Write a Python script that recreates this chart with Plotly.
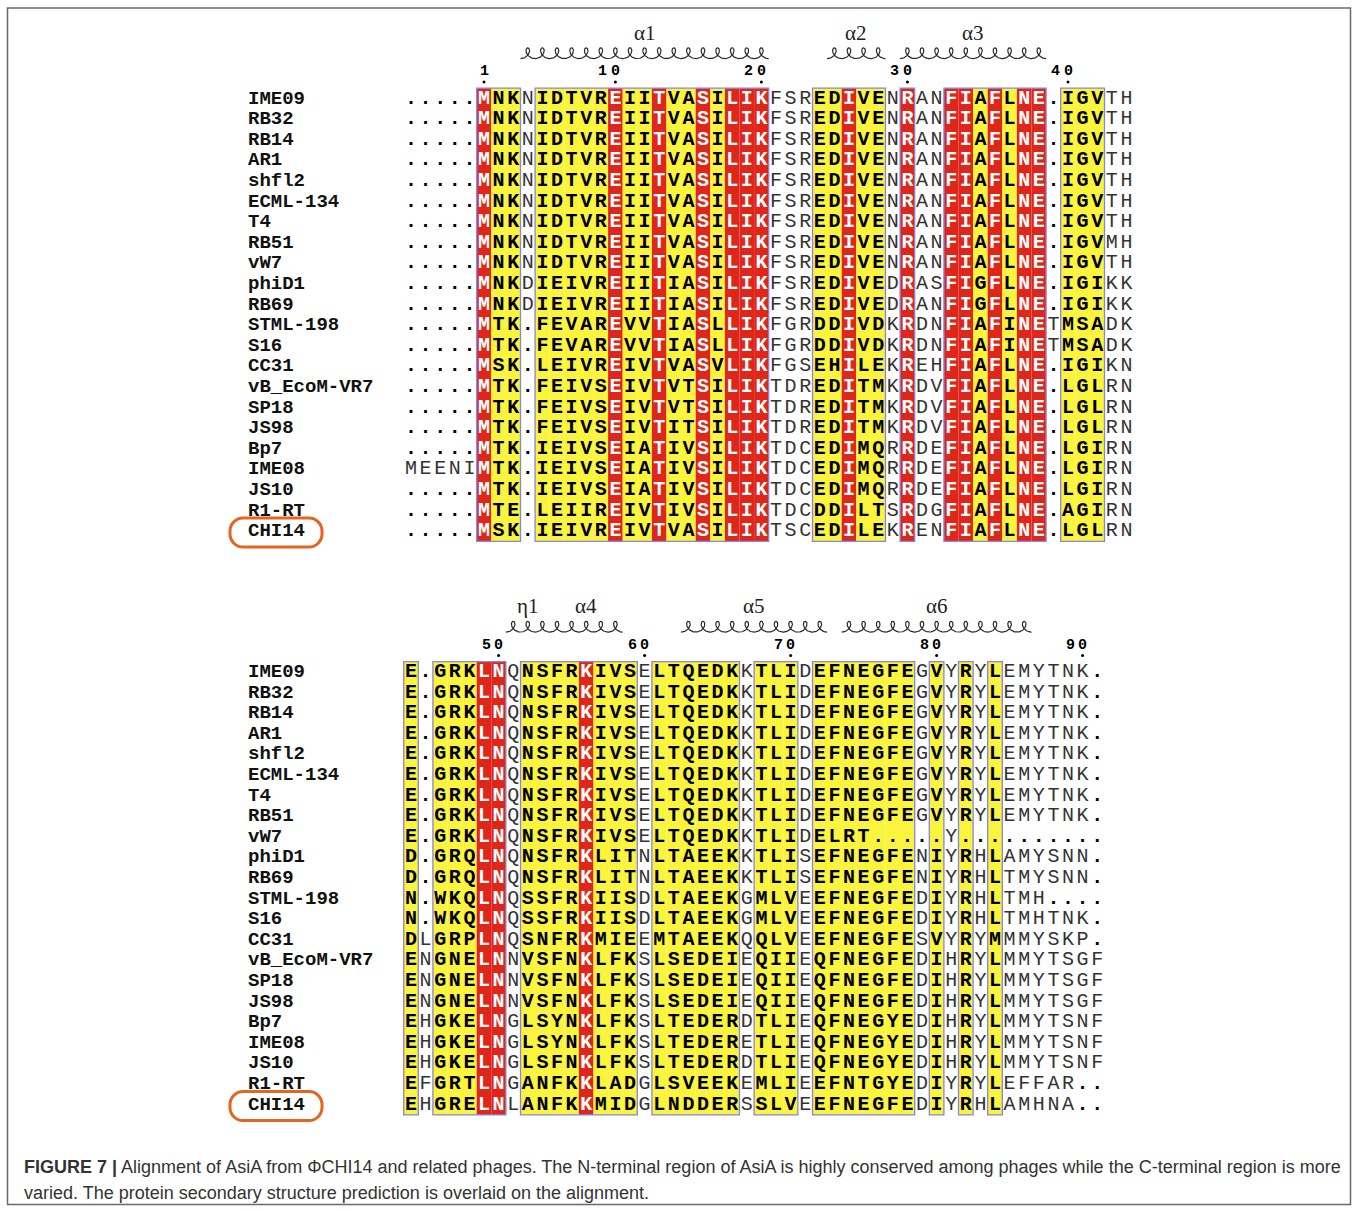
import numpy as np
import plotly.graph_objects as go

# ---------------------------------------------------------------- data ----
NAMES = ["IME09", "RB32", "RB14", "AR1", "shfl2", "ECML-134", "T4", "RB51",
         "vW7", "phiD1", "RB69", "STML-198", "S16", "CC31", "vB_EcoM-VR7",
         "SP18", "JS98", "Bp7", "IME08", "JS10", "R1-RT", "CHI14"]

# N-terminal half of the alignment (50 columns)
SEQ_N = [
    ".....MNKNIDTVREIITVASILIKFSREDIVENRANFIAFLNE.IGVTH",
    ".....MNKNIDTVREIITVASILIKFSREDIVENRANFIAFLNE.IGVTH",
    ".....MNKNIDTVREIITVASILIKFSREDIVENRANFIAFLNE.IGVTH",
    ".....MNKNIDTVREIITVASILIKFSREDIVENRANFIAFLNE.IGVTH",
    ".....MNKNIDTVREIITVASILIKFSREDIVENRANFIAFLNE.IGVTH",
    ".....MNKNIDTVREIITVASILIKFSREDIVENRANFIAFLNE.IGVTH",
    ".....MNKNIDTVREIITVASILIKFSREDIVENRANFIAFLNE.IGVTH",
    ".....MNKNIDTVREIITVASILIKFSREDIVENRANFIAFLNE.IGVMH",
    ".....MNKNIDTVREIITVASILIKFSREDIVENRANFIAFLNE.IGVTH",
    ".....MNKDIEIVREIITIASILIKFSREDIVEDRASFIGFLNE.IGIKK",
    ".....MNKDIEIVREIITIASILIKFSREDIVEDRANFIGFLNE.IGIKK",
    ".....MTK.FEVAREVVTIASLLIKFGRDDIVDKRDNFIAFINETMSADK",
    ".....MTK.FEVAREVVTIASLLIKFGRDDIVDKRDNFIAFINETMSADK",
    ".....MSK.LEIVREIVTVASVLIKFGSEHILEKREHFIAFLNE.IGIKN",
    ".....MTK.FEIVSEIVTVTSILIKTDREDITMKRDVFIAFLNE.LGLRN",
    ".....MTK.FEIVSEIVTVTSILIKTDREDITMKRDVFIAFLNE.LGLRN",
    ".....MTK.FEIVSEIVTITSILIKTDREDITMKRDVFIAFLNE.LGLRN",
    ".....MTK.IEIVSEIATIVSILIKTDCEDIMQRRDEFIAFLNE.LGIRN",
    "MEENIMTK.IEIVSEIATIVSILIKTDCEDIMQRRDEFIAFLNE.LGIRN",
    ".....MTK.IEIVSEIATIVSILIKTDCEDIMQRRDEFIAFLNE.LGIRN",
    ".....MTE.LEIIREIVTIVSILIKTDCDDILTSRDGFIAFLNE.AGIRN",
    ".....MSK.IEIVREIVTVASILIKTSCEDILEKRENFIAFLNE.LGLRN",
]

# C-terminal half of the alignment (48 columns)
SEQ_C = [
    "E.GRKLNQNSFRKIVSELTQEDKKTLIDEFNEGFEGVYRYLEMYTNK.",
    "E.GRKLNQNSFRKIVSELTQEDKKTLIDEFNEGFEGVYRYLEMYTNK.",
    "E.GRKLNQNSFRKIVSELTQEDKKTLIDEFNEGFEGVYRYLEMYTNK.",
    "E.GRKLNQNSFRKIVSELTQEDKKTLIDEFNEGFEGVYRYLEMYTNK.",
    "E.GRKLNQNSFRKIVSELTQEDKKTLIDEFNEGFEGVYRYLEMYTNK.",
    "E.GRKLNQNSFRKIVSELTQEDKKTLIDEFNEGFEGVYRYLEMYTNK.",
    "E.GRKLNQNSFRKIVSELTQEDKKTLIDEFNEGFEGVYRYLEMYTNK.",
    "E.GRKLNQNSFRKIVSELTQEDKKTLIDEFNEGFEGVYRYLEMYTNK.",
    "E.GRKLNQNSFRKIVSELTQEDKKTLIDELRT.....Y..........",
    "D.GRQLNQNSFRKLITNLTAEEKKTLISEFNEGFENIYRHLAMYSNN.",
    "D.GRQLNQNSFRKLITNLTAEEKKTLISEFNEGFENIYRHLTMYSNN.",
    "N.WKQLNQSSFRKIISDLTAEEKGMLVEEFNEGFEDIYRHLTMH....",
    "N.WKQLNQSSFRKIISDLTAEEKGMLVEEFNEGFEDIYRHLTMHTNK.",
    "DLGRPLNQSNFRKMIEEMTAEEKQQLVEEFNEGFESVYRYMMMYSKP.",
    "ENGNELNNVSFNKLFKSLSEDEIEQIIEQFNEGFEDIHRYLMMYTSGF",
    "ENGNELNNVSFNKLFKSLSEDEIEQIIEQFNEGFEDIHRYLMMYTSGF",
    "ENGNELNNVSFNKLFKSLSEDEIEQIIEQFNEGFEDIHRYLMMYTSGF",
    "EHGKELNGLSYNKLFKSLTEDERDTLIEQFNEGYEDIHRYLMMYTSNF",
    "EHGKELNGLSYNKLFKSLTEDERETLIEQFNEGYEDIHRYLMMYTSNF",
    "EHGKELNGLSFNKLFKSLTEDERDTLIEQFNEGYEDIHRYLMMYTSNF",
    "EFGRTLNGANFKKLADGLSVEEKEMLIEEFNTGYEDIYRYLEFFAR..",
    "EHGRELNLANFKKMIDGLNDDERSSLVEEFNEGFEDIYRHLAMHNA..",
]

# column conservation: r = strictly identical, y = similar, . = none
CONS_N = ".....ryy.yyyyyryyryyryrrr...yyryy.r..rryryrr.yyy.."
CONS_C = "y.yyyrr.yyyyryyy.yyyyyy.yyy.yyyyyyy.y.y.y......."

# predicted secondary structure (label, first column, last column)
SS_N = [("α1", 8, 24), ("α2", 29, 32), ("α3", 34, 43)]
SS_C = [("η1", 7, 9), ("α4", 10, 14), ("α5", 19, 28), ("α6", 30, 42)]

HIGHLIGHT = "CHI14"

CAPTION_1 = ("<b>FIGURE 7 |</b> Alignment of AsiA from ΦCHI14 and related phages. "
             "The N-terminal region of AsiA is highly conserved among phages while "
             "the C-terminal region is more")
CAPTION_2 = ("varied. The protein secondary structure prediction is overlaid on "
             "the alignment.")

# -------------------------------------------------------------- layout ----
W, H = 1358, 1211
COL_W = 14.6          # px per alignment column
ROW_H = 20.6          # px per sequence row
X0_PX = 403.7         # left edge of column 0
Y0_PX = 98.5          # centre of the first row of the first block
BLOCK2_ROW = (672.0 - Y0_PX) / ROW_H
NAME_X = (246 - X0_PX) / COL_W - 0.5

RED = "#e0261a"
YEL = "#faf43c"
BOX = "#8585e6"
MONO = "Liberation Mono, Courier New, monospace"
SERIF = "Liberation Serif, Times New Roman, serif"

fig = go.Figure()
shapes = []
annotations = []

n_rows = len(NAMES)
for seqs, cons in ((SEQ_N, CONS_N), (SEQ_C, CONS_C)):
    assert all(len(s) == len(cons) for s in seqs)

# residue numbering follows the first sequence (gaps are not counted)
ref = SEQ_N[0] + SEQ_C[0]
numbers = []
count = 0
for ch in ref:
    if ch != ".":
        count += 1
        numbers.append(count if (count == 1 or count % 10 == 0) else None)
    else:
        numbers.append(None)
num_blocks = [numbers[:len(CONS_N)], numbers[len(CONS_N):]]

blocks = [(SEQ_N, CONS_N, SS_N, 0.0, num_blocks[0]),
          (SEQ_C, CONS_C, SS_C, BLOCK2_ROW, num_blocks[1])]

styles = {
    "red": dict(color="white", weight="bold"),
    "yel": dict(color="black", weight="bold"),
    "gap": dict(color="black", weight="bold"),
    "var": dict(color="#333333", weight="normal"),
}
pts = {k: ([], [], []) for k in styles}

for seqs, cons, ss, off, nums in blocks:
    top, bot = off - 0.5, off + n_rows - 0.5
    # column backgrounds
    for c, cl in enumerate(cons):
        if cl in "ry":
            shapes.append(dict(type="rect", xref="x", yref="y", layer="below",
                               x0=c - 0.5, x1=c + 0.5, y0=top, y1=bot,
                               fillcolor=RED if cl == "r" else YEL,
                               line=dict(width=0)))
    # outline around each run of conserved columns
    c = 0
    while c < len(cons):
        if cons[c] in "ry":
            s = c
            while c + 1 < len(cons) and cons[c + 1] in "ry":
                c += 1
            shapes.append(dict(type="rect", xref="x", yref="y", layer="below",
                               x0=s - 0.5, x1=c + 0.5, y0=top, y1=bot,
                               line=dict(color=BOX, width=1.3)))
        c += 1
    # residues
    for r, seq in enumerate(seqs):
        for c, ch in enumerate(seq):
            cl = cons[c]
            if ch == ".":
                key = "gap"
            elif cl == "r":
                key = "red"
            elif cl == "y":
                key = "yel"
            else:
                key = "var"
            pts[key][0].append(c)
            pts[key][1].append(r + off)
            pts[key][2].append(ch)
    # sequence names
    for r, name in enumerate(NAMES):
        annotations.append(dict(x=NAME_X, y=r + off, xref="x", yref="y",
                                text=name, showarrow=False, xanchor="left",
                                yanchor="middle",
                                font=dict(family=MONO, size=19, color="#111",
                                          weight="bold")))
    # residue numbers with a dot beneath
    dx, dy = [], []
    for c, n in enumerate(nums):
        if n is None:
            continue
        digits = str(n)
        for k, d in enumerate(reversed(digits)):
            annotations.append(dict(x=c - 0.86 * k, y=off - 1.3, xref="x",
                                    yref="y", text=d, showarrow=False,
                                    xanchor="center", yanchor="middle",
                                    font=dict(family=MONO, size=15,
                                              color="black", weight="bold")))
        dx.append(c)
        dy.append(off - 0.8)
    fig.add_trace(go.Scatter(x=dx, y=dy, mode="markers", hoverinfo="skip",
                             marker=dict(size=3, color="black"),
                             showlegend=False))
    # secondary structure: helix coils and labels
    for label, a, b in ss:
        loops = b - a + 1
        theta = np.linspace(-np.pi, 2 * np.pi * loops - np.pi, 60 * loops)
        rad = COL_W / (2 * np.pi)
        xpx = rad * (theta + np.pi) - 4.9 * np.sin(theta)
        ypx = 5.4 * np.cos(theta)
        fig.add_trace(go.Scatter(x=(a - 0.5) + xpx / COL_W,
                                 y=(off - 2.2) - ypx / ROW_H,
                                 mode="lines", hoverinfo="skip",
                                 line=dict(color="#2a2a2a", width=1.2),
                                 showlegend=False))
        annotations.append(dict(x=(a + b) / 2, y=off - 3.2, xref="x", yref="y",
                                text=label, showarrow=False, xanchor="center",
                                yanchor="middle",
                                font=dict(family=SERIF, size=21, color="#222")))
    # highlight ring around the phage of interest
    hr = NAMES.index(HIGHLIGHT) + off + 1.5 / ROW_H
    xl = NAME_X - 16 / COL_W
    xr = NAME_X + 76 / COL_W
    yt = hr - 14.5 / ROW_H
    yb = hr + 14.5 / ROW_H
    rx, ry, k = 13 / COL_W, 13 / ROW_H, 0.5523
    path = (f"M {xl+rx},{yt} L {xr-rx},{yt} "
            f"C {xr-rx+k*rx},{yt} {xr},{yt+ry-k*ry} {xr},{yt+ry} "
            f"L {xr},{yb-ry} "
            f"C {xr},{yb-ry+k*ry} {xr-rx+k*rx},{yb} {xr-rx},{yb} "
            f"L {xl+rx},{yb} "
            f"C {xl+rx-k*rx},{yb} {xl},{yb-ry+k*ry} {xl},{yb-ry} "
            f"L {xl},{yt+ry} "
            f"C {xl},{yt+ry-k*ry} {xl+rx-k*rx},{yt} {xl+rx},{yt} Z")
    shapes.append(dict(type="path", xref="x", yref="y", path=path,
                       line=dict(color="#e2661f", width=3)))

for key, (xs, ys, ts) in pts.items():
    st = styles[key]
    fig.add_trace(go.Scatter(x=xs, y=ys, text=ts, mode="text",
                             textposition="middle center", hoverinfo="skip",
                             textfont=dict(family=MONO, size=20,
                                           color=st["color"],
                                           weight=st["weight"]),
                             showlegend=False))

# figure frame and caption
shapes.append(dict(type="rect", xref="paper", yref="paper",
                   x0=7.5 / W, x1=1350.5 / W, y0=1 - 1204.5 / H, y1=1 - 8 / H,
                   line=dict(color="#6a6a6a", width=1.5)))
for text, py in ((CAPTION_1, 1167), (CAPTION_2, 1193)):
    annotations.append(dict(x=22 / W, y=1 - py / H, xref="paper", yref="paper",
                            text=text, showarrow=False, xanchor="left",
                            yanchor="middle",
                            font=dict(family="Liberation Sans, Arial",
                                      size=18, color="#333")))

fig.update_layout(
    width=W, height=H, margin=dict(l=0, r=0, t=0, b=0),
    paper_bgcolor="white", plot_bgcolor="white",
    xaxis=dict(range=[-0.5 - X0_PX / COL_W, -0.5 + (W - X0_PX) / COL_W],
               visible=False, fixedrange=True),
    yaxis=dict(range=[(H - Y0_PX) / ROW_H, -Y0_PX / ROW_H],
               visible=False, fixedrange=True),
    shapes=shapes, annotations=annotations,
)

fig.write_html("out.html")
